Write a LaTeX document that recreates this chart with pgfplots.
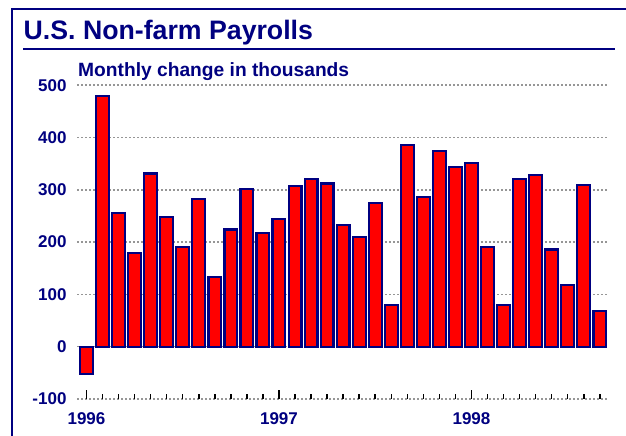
\documentclass[border=0pt]{standalone}
\usepackage{fontspec}
\setmainfont{Liberation Sans}
\usepackage{pgfplots}
\pgfplotsset{compat=1.18}
\definecolor{navy}{RGB}{0,0,128}
\definecolor{gridgray}{RGB}{150,150,150}
\begin{document}
\begin{tikzpicture}[x=1pt,y=1pt]
\useasboundingbox (0,0) rectangle (626,436);
\draw[navy, line width=2pt] (12,-10) -- (12,427) -- (640,427);
\draw[navy, line width=2pt] (23,387) -- (615,387);
\node[anchor=base west, inner sep=0, text=navy, font=\fontsize{26.7}{27}\selectfont\bfseries] at (23.5,396) {U.S. Non-farm Payrolls};
\node[anchor=base west, inner sep=0, text=navy, font=\fontsize{19.2}{20}\selectfont\bfseries] at (78,359) {Monthly change in thousands};
\begin{axis}[
  at={(77pt,37pt)}, anchor=south west,
  scale only axis, width=531pt, height=313.8pt,
  xmin=0.408, xmax=33.51, ymin=-100, ymax=500,
  ytick={-100,0,100,200,300,400,500},
  yticklabels={-100,0,100,200,300,400,500},
  axis line style={draw=none},
  ymajorgrids,
  major grid style={gridgray, line width=1.5pt, dash pattern=on 2pt off 2pt},
  ytick style={draw=none},
  xtick={1,...,33}, xticklabels={},
  xtick pos=lower,
  tick align=inside,
  major tick length=5pt,
  xtick style={black, line width=1.5pt},
  extra x ticks={1,13,25},
  extra x tick labels={1996,1997,1998},
  extra x tick style={major tick length=9pt, tick align=inside},
  /pgf/number format/assume math mode=true,
  tick label style={font=\fontsize{17}{17}\selectfont\bfseries, text=navy},
  yticklabel style={xshift=-7pt},
  xticklabel style={yshift=-10pt},
]
\addplot[ybar, bar width=12.8pt, bar shift=0pt, fill=red, draw=navy, line width=2.2pt] coordinates {
(1,-52) (2,480) (3,255) (4,179) (5,331) (6,248) (7,190) (8,282) (9,133)
(10,224) (11,301) (12,217) (13,244) (14,308) (15,320) (16,312) (17,232)
(18,209) (19,274) (20,79) (21,385) (22,286) (23,374) (24,343) (25,351)
(26,190) (27,79) (28,320) (29,328) (30,186) (31,118) (32,309) (33,68)
};
\end{axis}
\end{tikzpicture}
\end{document}
